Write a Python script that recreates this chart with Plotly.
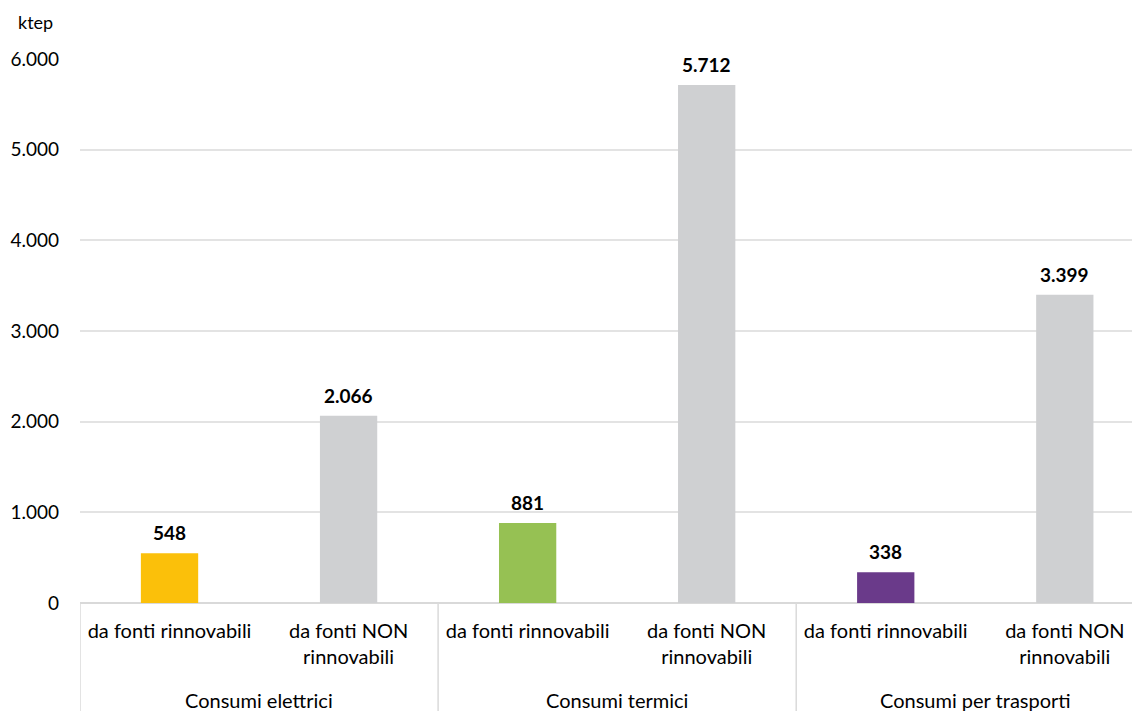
import plotly.graph_objects as go

groups = ["Consumi elettrici", "Consumi termici", "Consumi per trasporti"]
sub_labels = ["da fonti rinnovabili", "da fonti NON<br>rinnovabili"] * 3
values = [548, 2066, 881, 5712, 338, 3399]
colors = ["#FBC00A", "#CFD0D2", "#96C153", "#CFD0D2", "#6A3A8A", "#CFD0D2"]
y_ticks = [0, 1000, 2000, 3000, 4000, 5000, 6000]
y_unit = "ktep"

FONT = "Lato"
xs = list(range(len(values)))

# page body has an 8px margin; compensate so the visible frame matches
OFF = 8
W, H = 1140 - OFF, 711 - OFF
left, right, top, bottom = 80 - OFF, 0, 59 - OFF, 108
plot_w = W - left - right
plot_h = H - top - bottom

fig = go.Figure()
fig.add_trace(go.Bar(
    x=xs, y=values, marker=dict(color=colors, line=dict(width=0)),
    width=0.32, hoverinfo="skip",
))

for x, v in zip(xs, values):
    fig.add_annotation(x=x, y=v, xref="x", yref="y",
                       text=f"<b>{v:,}</b>".replace(",", "."),
                       showarrow=False, yanchor="bottom", yshift=7,
                       font=dict(family=FONT, size=19, color="#000000"))

fig.update_layout(
    width=W, height=H,
    margin=dict(l=left, r=right, t=top, b=bottom, pad=0),
    paper_bgcolor="white", plot_bgcolor="white",
    showlegend=False,
    separators=",.",
    font=dict(family=FONT, size=19, color="#000000"),
)
fig.update_yaxes(
    range=[0, 6000], tickvals=y_ticks, tickformat=",d",
    showgrid=True, gridcolor="#E3E3E3", gridwidth=1.5,
    zeroline=True, zerolinecolor="#D9D9D9", zerolinewidth=2,
    showline=False, ticks="", ticklabelstandoff=20,
    tickfont=dict(family=FONT, size=19, color="#000000"),
)
fig.update_xaxes(
    range=[-0.5, 5.42], tickvals=xs, ticktext=sub_labels,
    showgrid=False, zeroline=False, showline=False, ticks="",
    ticklabelstandoff=14,
    tickfont=dict(family=FONT, size=20, color="#000000"),
)

# group labels and dividers
for gi, g in enumerate(groups):
    fig.add_annotation(x=gi * 2 + 0.5, y=-97 / plot_h, xref="x", yref="paper",
                       text=g, showarrow=False, yanchor="middle",
                       font=dict(family=FONT, size=20, color="#000000"))
for d in [-0.5, 1.5, 3.5, 5.5]:
    fig.add_shape(type="line", x0=d, x1=d, y0=0, y1=-0.25, xref="x", yref="paper",
                  line=dict(color="#DADADA", width=1.5))

fig.add_annotation(x=(35 - 80) / plot_w, xref="paper", y=(59 - 22) / plot_h + 1, yref="paper",
                   text=y_unit, showarrow=False, xanchor="center", yanchor="middle",
                   font=dict(family=FONT, size=18, color="#000000"))

fig.write_html("out.html")
